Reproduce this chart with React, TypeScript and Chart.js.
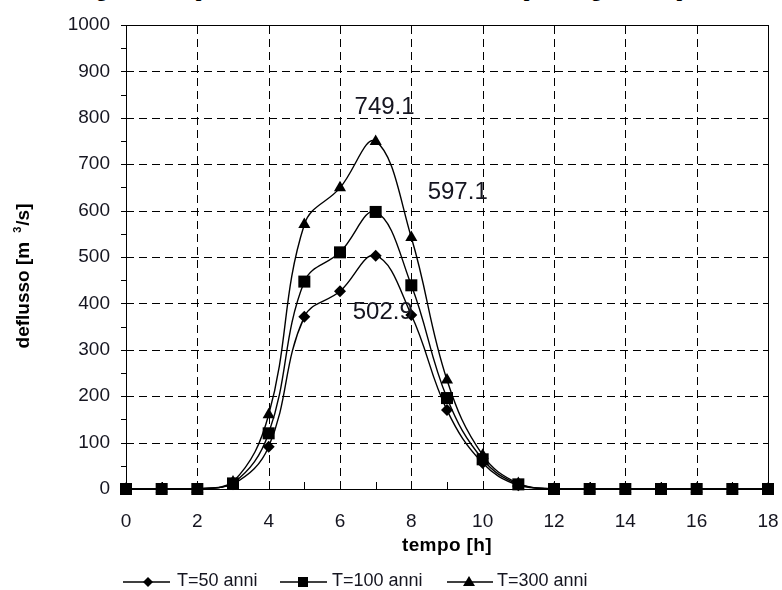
import React, { useEffect, useRef } from 'react';
import { Chart, registerables } from 'chart.js';
Chart.register(...registerables);

const hours = [0, 1, 2, 3, 4, 5, 6, 7, 8, 9, 10, 11, 12, 13, 14, 15, 16, 17, 18];
const q50 = [0, 0, 0, 10, 91, 371, 426, 502.9, 375, 170, 56, 8, 0, 0, 0, 0, 0, 0, 0];
const q100 = [0, 0, 0, 12, 120, 447, 510, 597.1, 439, 196, 64, 10, 0, 0, 0, 0, 0, 0, 0];
const q300 = [0, 0, 0, 15, 160, 570, 649, 749.1, 542, 235, 73, 12, 0, 0, 0, 0, 0, 0, 0];
const seriesNames = ['T=50 anni', 'T=100 anni', 'T=300 anni'];
const pointStyles = ['rectRot', 'rect', 'triangle'];
const pointRadii = [6, 8.5, 7];
const peakLabels = ['749.1', '597.1', '502.9'];
const peakLabelX = [7.25, 9.3, 7.2];
const peakLabelY = [822, 640, 380];
const xTitle = 'tempo [h]';
const yTitleMain = 'deflusso [m';
const yTitleSup = '3';
const yTitleEnd = '/s]';
const pageTitle = 'Figura 5.3: Idrogramma di portata alla sezione del torrente Ausa, per assegnato tempo di ritorno';

const FONT = '"Liberation Sans", Arial, sans-serif';

const decorPlugin = {
  id: 'decor',
  beforeDatasetsDraw(chart: any) {
    const { ctx, chartArea: a } = chart;
    const xs = chart.scales.x;
    const ys = chart.scales.y;
    ctx.save();
    ctx.strokeStyle = '#000';
    ctx.lineWidth = 1;
    ctx.setLineDash([8, 5]);
    ctx.beginPath();
    for (let v = 100; v < 1000; v += 100) {
      const y = Math.round(ys.getPixelForValue(v)) + 0.5;
      ctx.moveTo(a.left, y);
      ctx.lineTo(a.right, y);
    }
    for (let h = 2; h < 18; h += 2) {
      const x = Math.round(xs.getPixelForValue(h)) + 0.5;
      ctx.moveTo(x, a.bottom);
      ctx.lineTo(x, a.top);
    }
    ctx.stroke();
    ctx.setLineDash([]);
    ctx.strokeRect(Math.round(a.left) + 0.5, Math.round(a.top) + 0.5, Math.round(a.right - a.left), Math.round(a.bottom - a.top));
    ctx.beginPath();
    for (let v = 0; v <= 1000; v += 50) {
      const y = Math.round(ys.getPixelForValue(v)) + 0.5;
      ctx.moveTo(a.left - 5, y);
      ctx.lineTo(a.left, y);
    }
    for (let h = 0; h <= 18; h += 1) {
      const x = Math.round(xs.getPixelForValue(h)) + 0.5;
      ctx.moveTo(x, a.bottom);
      ctx.lineTo(x, a.bottom - 7);
    }
    ctx.stroke();
    ctx.restore();
  },
  afterDraw(chart: any) {
    const { ctx, chartArea: a } = chart;
    const xs = chart.scales.x;
    const ys = chart.scales.y;
    ctx.save();
    ctx.fillStyle = '#151520';
    ctx.font = `24px ${FONT}`;
    ctx.textAlign = 'center';
    ctx.textBaseline = 'middle';
    for (let i = 0; i < peakLabels.length; i++) {
      ctx.fillText(peakLabels[i], xs.getPixelForValue(peakLabelX[i]), ys.getPixelForValue(peakLabelY[i]));
    }
    ctx.fillStyle = '#000';
    ctx.font = `bold 19px ${FONT}`;
    (ctx as any).letterSpacing = '0.4px';
    ctx.fillText(xTitle, (a.left + a.right) / 2, 546);
    (ctx as any).letterSpacing = '0px';
    ctx.save();
    ctx.translate(22, 276);
    ctx.rotate(-Math.PI / 2);
    ctx.textAlign = 'left';
    ctx.textBaseline = 'alphabetic';
    const big = `bold 19px ${FONT}`;
    const small = `bold 11px ${FONT}`;
    ctx.font = big;
    const w1 = ctx.measureText(yTitleMain).width;
    const w3 = ctx.measureText(yTitleEnd).width;
    ctx.font = small;
    const w2 = ctx.measureText(yTitleSup).width;
    const gap1 = 9;
    const gap2 = 1;
    const total = w1 + gap1 + w2 + gap2 + w3;
    let cx = -total / 2;
    const base = 7;
    ctx.font = big;
    ctx.fillText(yTitleMain, cx, base);
    cx += w1 + gap1;
    ctx.font = small;
    ctx.fillText(yTitleSup, cx, base - 8);
    cx += w2 + gap2;
    ctx.font = big;
    ctx.fillText(yTitleEnd, cx, base);
    ctx.restore();
    const items = [
      { x0: 123, x1: 170, mx: 148, tx: 177 },
      { x0: 280, x1: 327, mx: 303, tx: 332 },
      { x0: 447, x1: 493, mx: 469, tx: 497 },
    ];
    const ly = 582;
    ctx.strokeStyle = '#000';
    ctx.lineWidth = 1.3;
    ctx.font = `18px ${FONT}`;
    ctx.textAlign = 'left';
    ctx.textBaseline = 'middle';
    for (let i = 0; i < items.length; i++) {
      const it = items[i];
      ctx.beginPath();
      ctx.moveTo(it.x0, ly);
      ctx.lineTo(it.x1, ly);
      ctx.stroke();
      ctx.fillStyle = '#000';
      ctx.beginPath();
      if (i === 0) {
        ctx.moveTo(it.mx, ly - 5); ctx.lineTo(it.mx + 5, ly); ctx.lineTo(it.mx, ly + 5); ctx.lineTo(it.mx - 5, ly);
      } else if (i === 1) {
        ctx.rect(it.mx - 5, ly - 5, 10, 10);
      } else {
        ctx.moveTo(it.mx, ly - 6); ctx.lineTo(it.mx + 6, ly + 4); ctx.lineTo(it.mx - 6, ly + 4);
      }
      ctx.closePath();
      ctx.fill();
      ctx.fillStyle = '#151520';
      ctx.fillText(seriesNames[i], it.tx, ly - 1);
    }
    ctx.restore();
  },
};

export default function App() {
  const ref = useRef<HTMLCanvasElement>(null);
  useEffect(() => {
    if (!ref.current) return;
    const series = [q50, q100, q300];
    const chart = new Chart(ref.current, {
      type: 'line',
      data: {
        datasets: series.map((s, i) => ({
          label: seriesNames[i],
          data: hours.map((h, j) => ({ x: h, y: s[j] })),
          borderColor: '#000',
          backgroundColor: '#000',
          borderWidth: 1.4,
          pointStyle: pointStyles[i] as any,
          pointRadius: pointRadii[i],
          pointBackgroundColor: '#000',
          pointBorderColor: '#000',
          pointBorderWidth: 0,
          tension: 0.4,
          fill: false,
          clip: false as any,
        })),
      },
      options: {
        animation: false,
        responsive: false,
        layout: { padding: { top: 25, right: 14, left: 0, bottom: 0 } },
        plugins: { legend: { display: false }, tooltip: { enabled: false }, title: { display: false } },
        scales: {
          x: {
            type: 'linear',
            min: 0,
            max: 18,
            afterFit: (s: any) => { s.height = 101; s.paddingLeft = 0; s.paddingRight = 0; },
            ticks: {
              stepSize: 1,
              autoSkip: false,
              maxRotation: 0,
              padding: 21,
              color: '#151520',
              font: { family: FONT, size: 19 },
              callback: (v: any) => (Number(v) % 2 === 0 ? String(v) : ''),
            },
            grid: { display: false, drawTicks: false },
            border: { display: false },
          },
          y: {
            min: 0,
            max: 1000,
            afterFit: (s: any) => { s.width = 126; s.paddingTop = 0; s.paddingBottom = 0; },
            ticks: {
              stepSize: 50,
              autoSkip: false,
              padding: 16,
              color: '#151520',
              font: { family: FONT, size: 19 },
              callback: (v: any) => (Number(v) % 100 === 0 ? String(v) : ''),
            },
            grid: { display: false, drawTicks: false },
            border: { display: false },
          },
        } as any,
      },
      plugins: [decorPlugin],
    } as any);
    return () => chart.destroy();
  }, []);
  return (
    <div style={{ position: 'absolute', left: 0, top: 0, width: 782, height: 590, overflow: 'hidden', background: '#fff' }}>
      <div
        style={{
          position: 'absolute',
          left: -40,
          top: -21,
          whiteSpace: 'nowrap',
          font: 'bold 20px "Liberation Serif", "Times New Roman", serif',
          lineHeight: '20px',
          color: '#000',
        }}
      >
        {pageTitle}
      </div>
      <canvas ref={ref} width={782} height={590} style={{ position: 'absolute', left: 0, top: 0, width: 782, height: 590 }} />
    </div>
  );
}
